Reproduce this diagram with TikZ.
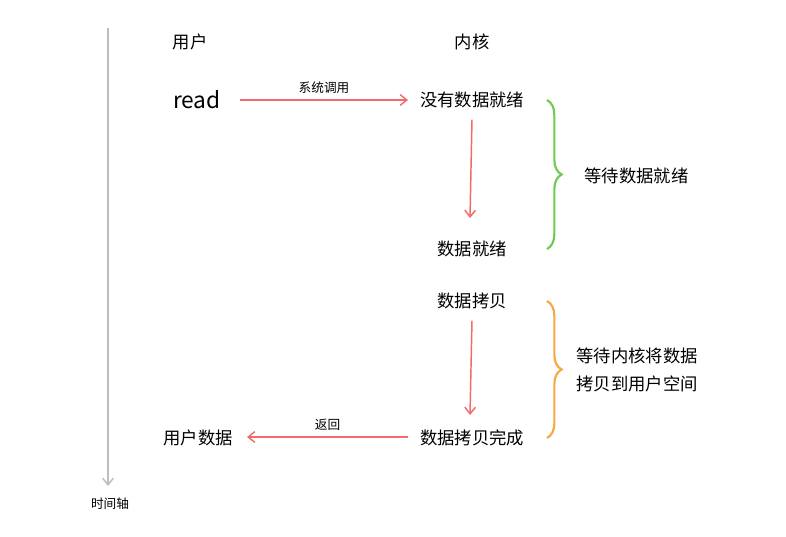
\documentclass[tikz,border=0pt]{standalone}
\usepackage{fontspec}
\newfontfamily\cjk{Noto Sans CJK SC}
\usetikzlibrary{decorations.pathreplacing,arrows.meta}
\definecolor{callred}{HTML}{F26A6A}
\definecolor{waitgreen}{HTML}{6CCB50}
\definecolor{waitorange}{HTML}{F5A844}
\definecolor{axisgray}{HTML}{BDBDBD}
\tikzset{
  txt/.style={font=\cjk\fontsize{13}{16}\selectfont, inner sep=1pt},
  small/.style={font=\cjk\fontsize{9.5}{11}\selectfont, inner sep=1pt},
  flow/.style={draw=callred, line width=1.1pt, -{Straight Barb[length=5pt,width=8pt]}},
  wait/.style={decorate, decoration={brace, amplitude=11pt}, line width=1.6pt}
}
\begin{document}
\begin{tikzpicture}[x=0.75pt,y=-0.75pt]
 \useasboundingbox (0,0) rectangle (786,536);

 % time axis
 \coordinate (top) at (108,28);
 \coordinate (bottom) at (108,486);
 \draw[axisgray, line width=1.1pt, -{Straight Barb[length=5pt,width=8pt]}] (top) -- (bottom);
 \node[small] (axis) at (110,504) {时间轴};

 \node[txt] (user) at (190,42) {用户};
 \node[txt] (kernel) at (472,42) {内核};

 \node[font=\cjk\fontsize{17}{19}\selectfont, inner sep=1pt] (read) at (197,100) {read};
 \node[txt] (notready) at (472,100) {没有数据就绪};
 \node[txt] (ready) at (472,249) {数据就绪};
 \node[txt] (copy) at (472,301) {数据拷贝};
 \node[txt] (copydone) at (472,438) {数据拷贝完成};
 \node[txt] (userdata) at (198,438) {用户数据};

 \coordinate (r1) at (240,100);
 \coordinate (r2) at (408,100);
 \draw[flow] (r1) -- (r2) node[midway, small, above=3pt] {系统调用};
 \draw[flow] (notready.south) ++(0,10) -- (470,218);
 \draw[flow] (copy.south) ++(0,10) -- (470,415);
 \coordinate (b1) at (408,437);
 \coordinate (b2) at (247,437);
 \draw[flow] (b1) -- (b2) node[midway, small, above=3pt] {返回};

 % braces
 \draw[wait, waitgreen] (547,100) -- (547,249);
 \node[txt, anchor=west] (waitready) at (583,176) {等待数据就绪};
 \draw[wait, waitorange] (547,301) -- (547,438);
 \node[txt, align=left, anchor=west] (waitcopy) at (575,370) {等待内核将数据\\[5pt]拷贝到用户空间};
\end{tikzpicture}
\end{document}
